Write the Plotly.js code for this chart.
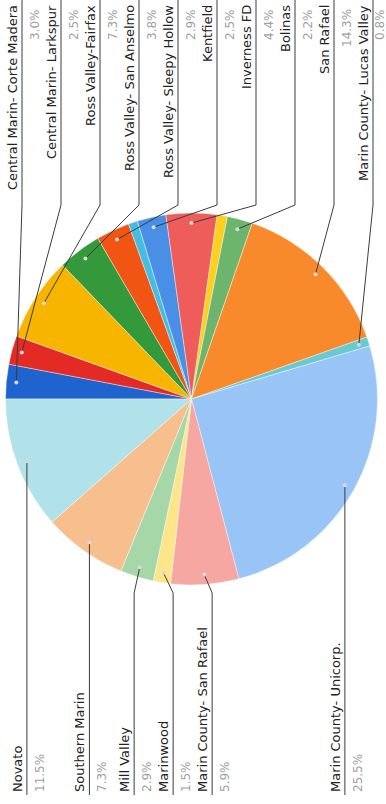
<!DOCTYPE html>
<html><head><meta charset="utf-8">
<script src="https://cdn.plot.ly/plotly-3.0.1.min.js"></script>
<style>
html,body{margin:0;padding:0;background:#fff;overflow:hidden;}
#stage{position:relative;width:386px;height:804px;overflow:hidden;background:#fff;}
#chart{position:absolute;left:0;top:0;width:804px;height:386px;transform-origin:0 0;transform:translate(0,804px) rotate(-90deg);}
</style></head>
<body><div id="stage"><div id="chart"></div></div>
<script>
// ---- data ----
const categories = ["Central Marin- Corte Madera", "Central Marin- Larkspur", "Ross Valley-Fairfax",
  "Ross Valley- San Anselmo", "Ross Valley- Sleepy Hollow", "(unlabelled slice A)", "Kentfield",
  "Inverness FD", "(unlabelled slice B)", "Bolinas", "San Rafael", "Marin County- Lucas Valley",
  "Marin County- Unicorp.", "Marin County- San Rafael", "Marinwood", "Mill Valley",
  "Southern Marin", "Novato"];
const shares = [3.0, 2.5, 7.3, 3.8, 2.9, 0.8, 2.5, 4.4, 0.9, 2.2, 14.3, 0.8, 25.5, 5.9, 1.5, 2.9, 7.3, 11.5];
const labelShown = [true, true, true, true, true, false, true, true, false, true, true, true, true, true, true, true, true, true];
const sliceColors = ["#1f63cf", "#e42a25", "#f7b500", "#33993b", "#f05514", "#46bde0", "#4a8fe6",
  "#ee5d5a", "#fdd020", "#6db46c", "#f98a2c", "#6cc9d2", "#99c4f6", "#f6a7a1", "#fde58a",
  "#a6d7a8", "#f8bf8e", "#b1e2ea"];

// ---- layout geometry (pixels of the unrotated 804x386 chart) ----
const W = 804, H = 386, CX = 405, CY = 191.5, R = 186;
const DOT_FRAC = 0.946, BEND_GAP = 8, GAP = 39, TOP = 22, BOTTOM = 373;
const FONT = "DejaVu Sans, Arial, sans-serif";

const px = x => x / W, py = y => 1 - y / H;
const total = shares.reduce((a, b) => a + b, 0);
let cum = 0;
const mids = shares.map(v => { const m = (cum + v / 2) / total * 2 * Math.PI; cum += v; return m; });
const dots = mids.map(m => ({ x: CX + DOT_FRAC * R * Math.sin(m), y: CY - DOT_FRAC * R * Math.cos(m), right: m < Math.PI }));

function spread(ys) {
  let cl = ys.map(y => ({ n: 1, sum: y }));
  const pos = c => Math.max(TOP, Math.min(BOTTOM - GAP * (c.n - 1), c.sum / c.n - GAP * (c.n - 1) / 2 + (c.n > 1 ? 4 : 0)));
  let changed = true;
  while (changed) {
    changed = false;
    for (let i = 0; i < cl.length - 1; i++) {
      const a = cl[i], b = cl[i + 1];
      if (pos(a) + GAP * a.n > pos(b) + 1e-6) { a.n += b.n; a.sum += b.sum; cl.splice(i + 1, 1); changed = true; break; }
    }
  }
  const out = []; cl.forEach(c => { const t = pos(c); for (let k = 0; k < c.n; k++) out.push(t + k * GAP); });
  return out;
}

const lineY = {};
[true, false].forEach(side => {
  const idx = categories.map((_, i) => i).filter(i => labelShown[i] && dots[i].right === side)
    .sort((a, b) => dots[a].y - dots[b].y);
  const ys = spread(idx.map(i => dots[i].y));
  idx.forEach((i, k) => lineY[i] = ys[k]);
});

const shapes = [], annotations = [];
categories.forEach((name, i) => {
  if (!labelShown[i]) return;
  const d = dots[i], ly = lineY[i];
  const bendX = d.right ? CX + R + BEND_GAP : CX - R - BEND_GAP;
  const endX = d.right ? W : 9;
  shapes.push({ type: "path", xref: "paper", yref: "paper", layer: "above",
    path: `M${px(d.x)},${py(d.y)} L${px(bendX)},${py(ly)} L${px(endX)},${py(ly)}`,
    line: { color: "#3c3c3c", width: 1 } });
  shapes.push({ type: "circle", xref: "paper", yref: "paper", layer: "above",
    x0: px(d.x - 2), x1: px(d.x + 2), y0: py(d.y + 2), y1: py(d.y - 2),
    fillcolor: "#d8d8d8", line: { width: 0 } });
  annotations.push({ xref: "paper", yref: "paper", x: px(d.right ? 800 : 11), y: py(ly - 1),
    xanchor: d.right ? "right" : "left", yanchor: "bottom", showarrow: false, borderpad: 0,
    text: name, font: { family: FONT, size: 13, color: "#222" } });
  const pTop = Math.min(ly + 5, H - 14);
  annotations.push({ xref: "paper", yref: "paper", x: px(d.right ? 796 : 11), y: py(pTop),
    xanchor: d.right ? "right" : "left", yanchor: "top", showarrow: false, borderpad: 0,
    text: (shares[i] / total * 100).toFixed(1) + "%", font: { family: FONT, size: 12, color: "#a0a0a0" } });
});

const trace = {
  type: "pie", labels: categories, values: shares, sort: false, direction: "clockwise", rotation: 0,
  marker: { colors: sliceColors, line: { color: "#ffffff", width: 0.4 } },
  textinfo: "none", hoverinfo: "label+percent", showlegend: false,
  domain: { x: [px(CX - R), px(CX + R)], y: [py(CY + R), py(CY - R)] }
};

Plotly.newPlot("chart", [trace], {
  width: W, height: H, margin: { l: 0, r: 0, t: 0, b: 0 },
  paper_bgcolor: "#ffffff", showlegend: false, shapes, annotations
}, { displayModeBar: false, staticPlot: true });
</script>
</body></html>
